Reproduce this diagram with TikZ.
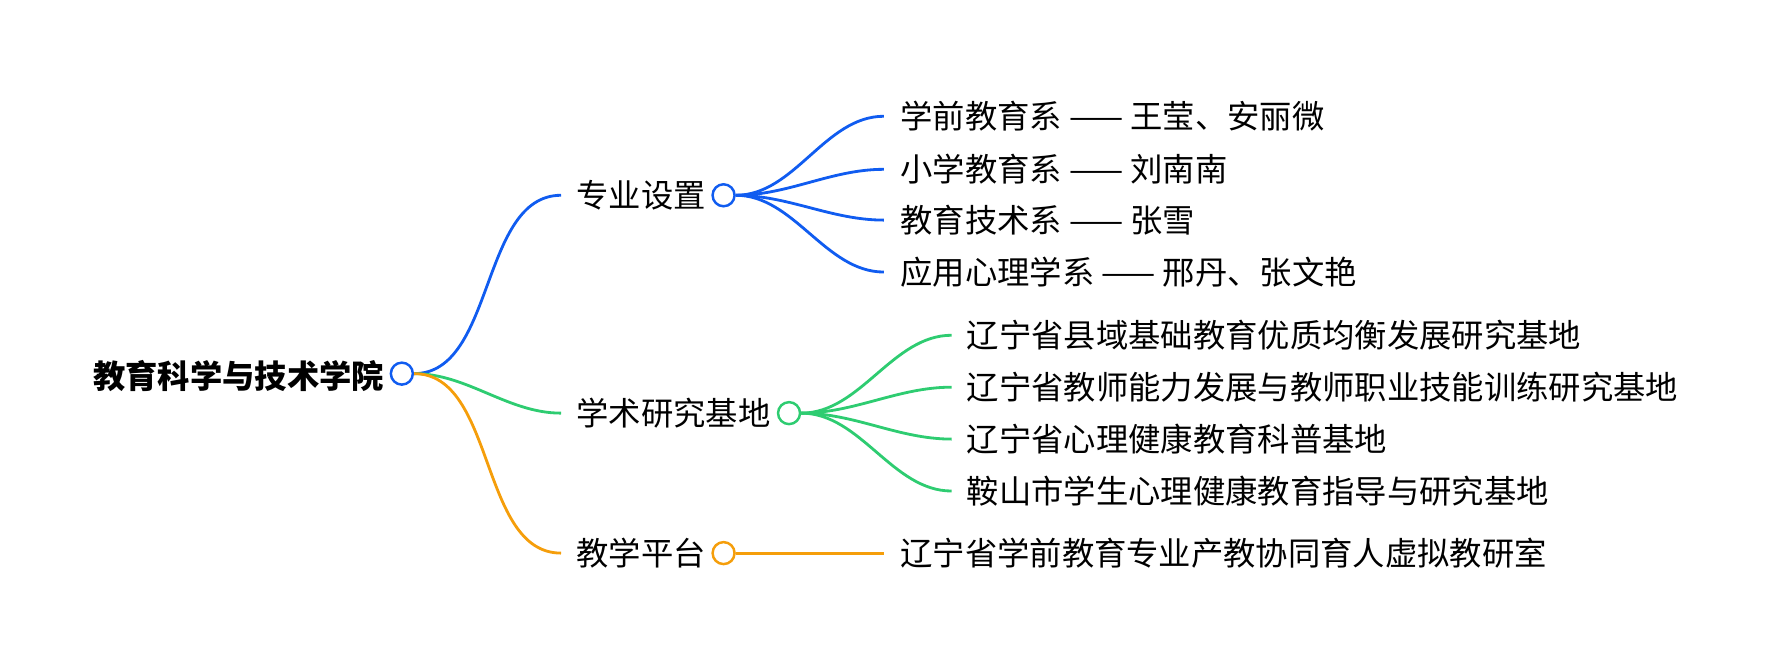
\documentclass[tikz,border=0pt]{standalone}
\usepackage{fontspec}
\setmainfont{Noto Sans CJK SC}
\begin{document}
\begin{tikzpicture}[x=0.01129cm,y=-0.01129cm]
\tikzset{knoten/.style={circle,draw,fill=white,line width=0.7pt,minimum size=0.22cm,inner sep=0pt},
  txt/.style={anchor=west,inner sep=0pt,font=\fontsize{9.2}{11}\selectfont},
  ast/.style={line width=0.8pt},
  bogen/.style={out=0,in=180,looseness=0.9}}
\useasboundingbox (0,0) rectangle (1568,594);
\colorlet{blau}{rgb,255:red,16;green,92;blue,240}
\colorlet{gruen}{rgb,255:red,46;green,204;blue,113}
\colorlet{orange}{rgb,255:red,245;green,158;blue,11}
% Wurzel
\node [txt,anchor=east,font=\fontsize{9.2}{11}\selectfont\bfseries] (wurzel) at (341,333) {教育科学与技术学院};
\node [knoten,draw=blau] (w) at (356,331) {};
% erste Ebene
\coordinate (z1) at (497,173);
\coordinate (z2) at (497,366);
\coordinate (z3) at (497,490);
\node [txt] (t1) at (510,173) {专业设置};
\node [txt] (t2) at (510,366) {学术研究基地};
\node [txt] (t3) at (510,490) {教学平台};
\node [knoten,draw=blau] (k1) at (641,173) {};
\node [knoten,draw=gruen] (k2) at (699,366) {};
\node [knoten,draw=orange] (k3) at (641,490) {};
\draw[ast,blau] (w.east) to[bogen] (z1);
\draw[ast,gruen] (w.east) to[bogen] (z2);
\draw[ast,orange] (w.east) to[bogen] (z3);
% zweite Ebene
\foreach \y/\t [count=\i] in {103/学前教育系 —— 王莹、安丽微,150/小学教育系 —— 刘南南,195/教育技术系 —— 张雪,241/应用心理学系 —— 邢丹、张文艳} {
  \coordinate (a\i) at (783,\y);
  \node [txt] (ta\i) at (797,\y) {\t};
  \draw[ast,blau] (k1.east) to[bogen] (a\i);
}
\foreach \y/\t [count=\i] in {297/辽宁省县域基础教育优质均衡发展研究基地,343/辽宁省教师能力发展与教师职业技能训练研究基地,389/辽宁省心理健康教育科普基地,435/鞍山市学生心理健康教育指导与研究基地} {
  \coordinate (b\i) at (843,\y);
  \node [txt] (tb\i) at (856,\y) {\t};
  \draw[ast,gruen] (k2.east) to[bogen] (b\i);
}
\coordinate (c1) at (783,490);
\node [txt] (tc1) at (797,490) {辽宁省学前教育专业产教协同育人虚拟教研室};
\draw[ast,orange] (k3.east) -- (c1);
\end{tikzpicture}
\end{document}
